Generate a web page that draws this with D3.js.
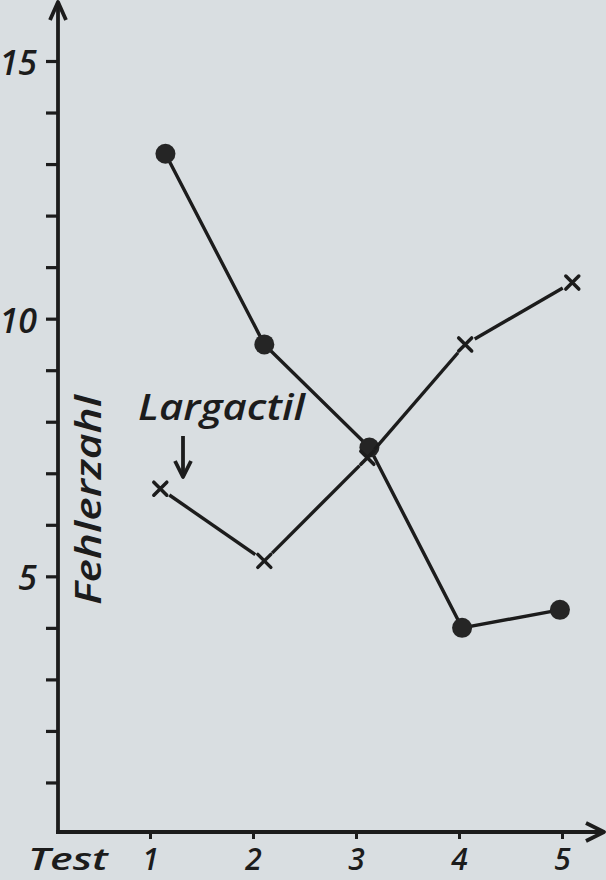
<!DOCTYPE html>
<html>
<head>
<meta charset="utf-8">
<script src="https://cdn.jsdelivr.net/npm/d3@7"></script>
<style>
  html, body { margin: 0; padding: 0; background: #d9dee1; }
  svg { display: block; }
  text { font-family: "Open Sans", "DejaVu Sans", sans-serif; font-style: italic; font-weight: 600; fill: #1c1c1c; }
</style>
</head>
<body>
<svg id="chart" width="606" height="880"></svg>
<script>
// ---- data ----
const tests = [1, 2, 3, 4, 5];                       // x tick labels
const yTickValues = d3.range(1, 16);                  // minor ticks 1..15
const yTickLabels = [5, 10, 15];                      // labelled ticks
// series without drug (filled circles): plotted test position & error count
const circleX = [1.15, 2.11, 3.13, 4.03, 4.98];
const circleVals = [13.2, 9.5, 7.5, 4.0, 4.35];
// series with Largactil (crosses)
const crossX = [1.1, 2.11, 3.11, 4.06, 5.1];
const crossVals = [6.7, 5.3, 7.3, 9.5, 10.7];
const yTitle = "Fehlerzahl";
const xTitle = "Test";
const annotation = "Largactil";

// ---- layout ----
const svg = d3.select("#chart");
const ink = "#1c1c1c";
const x = d3.scaleLinear().domain([0, 5]).range([47, 562]);
const y = d3.scaleLinear().domain([0, 15]).range([834, 61]);
const axisX0 = 58, axisY0 = 832;

// y axis
const gy = svg.append("g").attr("transform", `translate(${axisX0},0)`)
  .call(d3.axisLeft(y).tickValues(yTickValues).tickSize(12).tickPadding(9)
    .tickFormat(d => yTickLabels.includes(d) ? d : ""));
gy.select(".domain").remove();
gy.selectAll(".tick line").attr("stroke", ink).attr("stroke-width", 3.2);
gy.selectAll(".tick text").attr("font-size", 34).attr("fill", ink)
  .attr("font-family", "'Open Sans', sans-serif").attr("font-style", "italic").attr("font-weight", 600)
  .attr("dy", "0.4em");
svg.append("line").attr("x1", axisX0).attr("x2", axisX0).attr("y1", axisY0).attr("y2", 4)
  .attr("stroke", ink).attr("stroke-width", 3.8);
svg.append("path").attr("d", `M${axisX0-8},${20} L${axisX0},${2} L${axisX0+8},${20}`)
  .attr("fill", "none").attr("stroke", ink).attr("stroke-width", 3.8).attr("stroke-linejoin", "round");

// x axis
const gx = svg.append("g").attr("transform", `translate(0,${axisY0})`)
  .call(d3.axisBottom(x).tickValues(tests).tickSize(7).tickPadding(10).tickFormat(d3.format("d")));
gx.select(".domain").remove();
gx.selectAll(".tick line").attr("stroke", ink).attr("stroke-width", 3);
gx.selectAll(".tick text").attr("font-size", 30).attr("fill", ink)
  .attr("font-family", "'Open Sans', sans-serif").attr("font-style", "italic").attr("font-weight", 600);
svg.append("line").attr("x1", axisX0 - 2).attr("x2", 602).attr("y1", axisY0).attr("y2", axisY0)
  .attr("stroke", ink).attr("stroke-width", 3.8);
svg.append("path").attr("d", `M${586},${axisY0-9} L${604},${axisY0} L${586},${axisY0+9}`)
  .attr("fill", "none").attr("stroke", ink).attr("stroke-width", 3.8).attr("stroke-linejoin", "round");

// titles
svg.append("text").attr("x", 28).attr("y", 870).attr("font-size", 30)
  .attr("textLength", 80).attr("lengthAdjust", "spacingAndGlyphs").text(xTitle);
svg.append("text").attr("transform", "translate(101,605) rotate(-90)")
  .attr("font-size", 36).attr("textLength", 210).attr("lengthAdjust", "spacingAndGlyphs").text(yTitle);

// annotation
svg.append("text").attr("x", 138).attr("y", 420).attr("font-size", 36)
  .attr("textLength", 167).attr("lengthAdjust", "spacingAndGlyphs").text(annotation);
svg.append("line").attr("x1", 183).attr("x2", 183).attr("y1", 436).attr("y2", 475)
  .attr("stroke", ink).attr("stroke-width", 3.8);
svg.append("path").attr("d", "M175,461 L183,477 L191,461")
  .attr("fill", "none").attr("stroke", ink).attr("stroke-width", 3.8).attr("stroke-linejoin", "round");

// circle series
const circPts = circleX.map((v, i) => [x(v), y(circleVals[i])]);
svg.append("path").attr("d", d3.line()(circPts))
  .attr("fill", "none").attr("stroke", ink).attr("stroke-width", 3.4);
svg.selectAll(".dot").data(circPts).join("circle").attr("class", "dot")
  .attr("cx", d => d[0]).attr("cy", d => d[1]).attr("r", 10).attr("fill", "#252525");

// cross series: segments with small gaps at the markers
const crossPts = crossX.map((v, i) => [x(v), y(crossVals[i])]);
const gap = 11;
const segs = d3.pairs(crossPts).map(([a, b]) => {
  const dx = b[0] - a[0], dy = b[1] - a[1], L = Math.hypot(dx, dy);
  const ux = dx / L, uy = dy / L;
  return [[a[0] + ux * gap, a[1] + uy * gap], [b[0] - ux * gap, b[1] - uy * gap]];
});
svg.selectAll(".seg").data(segs).join("path").attr("class", "seg")
  .attr("d", d => d3.line()(d)).attr("fill", "none").attr("stroke", ink).attr("stroke-width", 3.4);
const s = 6.5;
svg.selectAll(".cross").data(crossPts).join("path").attr("class", "cross")
  .attr("d", d => `M${d[0]-s},${d[1]-s} L${d[0]+s},${d[1]+s} M${d[0]-s},${d[1]+s} L${d[0]+s},${d[1]-s}`)
  .attr("stroke", ink).attr("stroke-width", 3.5).attr("stroke-linecap", "round");
</script>
</body>
</html>
